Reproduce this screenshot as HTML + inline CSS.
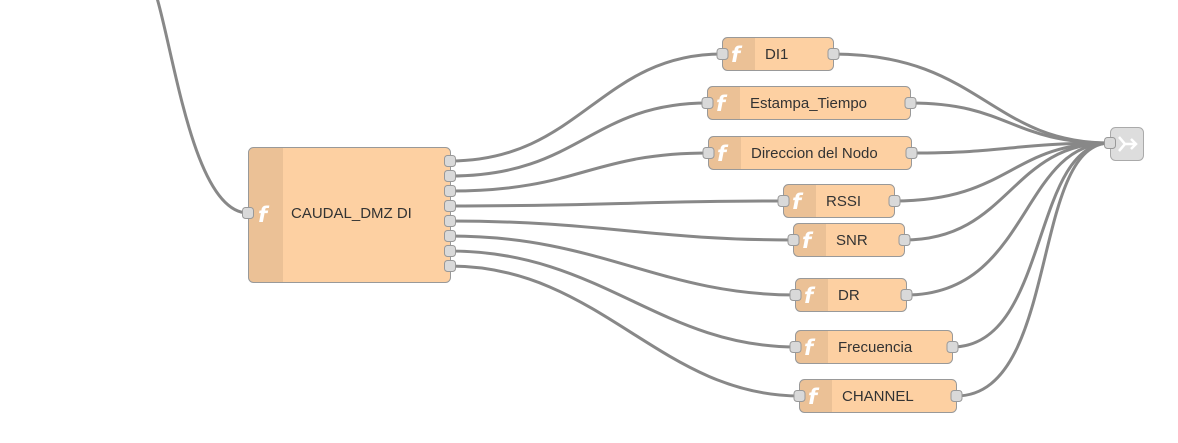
<!DOCTYPE html>
<html><head><style>
body{margin:0;background:#fff;}
svg{display:block;font-family:"Liberation Sans",Arial,sans-serif;}
.n{fill:#fdd0a2;stroke:#999;stroke-width:1;}
.ib{fill:#000;fill-opacity:0.07;}
.p{fill:#d9d9d9;stroke:#999;stroke-width:1;}
.w{fill:none;stroke:#888;stroke-width:3;}
.t{font-size:15px;fill:#333;}
.f{font-family:"DejaVu Sans",sans-serif;font-style:italic;font-weight:bold;font-size:21px;fill:#fff;}
</style></head><body>
<svg width="1178" height="443" viewBox="0 0 1178 443">
<g class="w">
<path d="M157 -2 C175 60,195 213,248 213"/>
<path d="M450 161 C580 161,600 54,722 54"/>
<path d="M450 176 C580 176,590 103,708 103"/>
<path d="M450 191 C580 191,590 153,709 153"/>
<path d="M450 206 C600 206,640 201,784 201"/>
<path d="M450 221 C600 221,650 240,794 240"/>
<path d="M450 236 C600 236,660 295,796 295"/>
<path d="M450 251 C600 251,660 347,796 347"/>
<path d="M450 266 C600 266,660 396,800 396"/>
<path d="M833 54 C980 54,990 143,1110 143"/>
<path d="M910 103 C1010 103,1010 143,1110 143"/>
<path d="M911 153 C1010 153,1010 143,1110 143"/>
<path d="M894 201 C1010 201,1010 143,1110 143"/>
<path d="M904 240 C1010 240,1010 143,1110 143"/>
<path d="M906 295 C1030 295,1020 143,1110 143"/>
<path d="M952 347 C1050 347,1030 143,1110 143"/>
<path d="M956 396 C1060 396,1030 143,1110 143"/>
</g>
<rect class="n" x="248.5" y="147.5" width="202" height="135" rx="5"/>
<path class="ib" d="M253 148 H283 V282 H253 A5 5 0 0 1 249 277 V153 A5 5 0 0 1 253 148Z"/>
<text class="f" x="258" y="222">f</text>
<text class="t" x="291" y="218">CAUDAL_DMZ DI</text>
<rect class="p" x="242.5" y="207.5" width="11" height="11" rx="3"/>
<g>
<rect class="p" x="444.5" y="155.5" width="11" height="11" rx="3"/>
<rect class="p" x="444.5" y="170.5" width="11" height="11" rx="3"/>
<rect class="p" x="444.5" y="185.5" width="11" height="11" rx="3"/>
<rect class="p" x="444.5" y="200.5" width="11" height="11" rx="3"/>
<rect class="p" x="444.5" y="215.5" width="11" height="11" rx="3"/>
<rect class="p" x="444.5" y="230.5" width="11" height="11" rx="3"/>
<rect class="p" x="444.5" y="245.5" width="11" height="11" rx="3"/>
<rect class="p" x="444.5" y="260.5" width="11" height="11" rx="3"/>
</g>
<g transform="translate(722,37)"><rect class="n" x="0.5" y="0.5" width="111" height="33" rx="5"/><path class="ib" d="M5 1 H33 V33 H5 A4 4 0 0 1 1 29 V5 A4 4 0 0 1 5 1Z"/><text class="f" x="9" y="25">f</text><text class="t" x="43" y="22">DI1</text><rect class="p" x="-5" y="11.5" width="11" height="11" rx="3"/><rect class="p" x="106" y="11.5" width="11" height="11" rx="3"/></g>
<g transform="translate(707,86)"><rect class="n" x="0.5" y="0.5" width="203" height="33" rx="5"/><path class="ib" d="M5 1 H33 V33 H5 A4 4 0 0 1 1 29 V5 A4 4 0 0 1 5 1Z"/><text class="f" x="9" y="25">f</text><text class="t" x="43" y="22">Estampa_Tiempo</text><rect class="p" x="-5" y="11.5" width="11" height="11" rx="3"/><rect class="p" x="198" y="11.5" width="11" height="11" rx="3"/></g>
<g transform="translate(708,136)"><rect class="n" x="0.5" y="0.5" width="203" height="33" rx="5"/><path class="ib" d="M5 1 H33 V33 H5 A4 4 0 0 1 1 29 V5 A4 4 0 0 1 5 1Z"/><text class="f" x="9" y="25">f</text><text class="t" x="43" y="22">Direccion del Nodo</text><rect class="p" x="-5" y="11.5" width="11" height="11" rx="3"/><rect class="p" x="198" y="11.5" width="11" height="11" rx="3"/></g>
<g transform="translate(783,184)"><rect class="n" x="0.5" y="0.5" width="111" height="33" rx="5"/><path class="ib" d="M5 1 H33 V33 H5 A4 4 0 0 1 1 29 V5 A4 4 0 0 1 5 1Z"/><text class="f" x="9" y="25">f</text><text class="t" x="43" y="22">RSSI</text><rect class="p" x="-5" y="11.5" width="11" height="11" rx="3"/><rect class="p" x="106" y="11.5" width="11" height="11" rx="3"/></g>
<g transform="translate(793,223)"><rect class="n" x="0.5" y="0.5" width="111" height="33" rx="5"/><path class="ib" d="M5 1 H33 V33 H5 A4 4 0 0 1 1 29 V5 A4 4 0 0 1 5 1Z"/><text class="f" x="9" y="25">f</text><text class="t" x="43" y="22">SNR</text><rect class="p" x="-5" y="11.5" width="11" height="11" rx="3"/><rect class="p" x="106" y="11.5" width="11" height="11" rx="3"/></g>
<g transform="translate(795,278)"><rect class="n" x="0.5" y="0.5" width="111" height="33" rx="5"/><path class="ib" d="M5 1 H33 V33 H5 A4 4 0 0 1 1 29 V5 A4 4 0 0 1 5 1Z"/><text class="f" x="9" y="25">f</text><text class="t" x="43" y="22">DR</text><rect class="p" x="-5" y="11.5" width="11" height="11" rx="3"/><rect class="p" x="106" y="11.5" width="11" height="11" rx="3"/></g>
<g transform="translate(795,330)"><rect class="n" x="0.5" y="0.5" width="157" height="33" rx="5"/><path class="ib" d="M5 1 H33 V33 H5 A4 4 0 0 1 1 29 V5 A4 4 0 0 1 5 1Z"/><text class="f" x="9" y="25">f</text><text class="t" x="43" y="22">Frecuencia</text><rect class="p" x="-5" y="11.5" width="11" height="11" rx="3"/><rect class="p" x="152" y="11.5" width="11" height="11" rx="3"/></g>
<g transform="translate(799,379)"><rect class="n" x="0.5" y="0.5" width="157" height="33" rx="5"/><path class="ib" d="M5 1 H33 V33 H5 A4 4 0 0 1 1 29 V5 A4 4 0 0 1 5 1Z"/><text class="f" x="9" y="25">f</text><text class="t" x="43" y="22">CHANNEL</text><rect class="p" x="-5" y="11.5" width="11" height="11" rx="3"/><rect class="p" x="152" y="11.5" width="11" height="11" rx="3"/></g>
<rect x="1110.5" y="127.5" width="33" height="33" rx="5" fill="#ddd" stroke="#aaa"/>
<path d="M1119 137 L1125 144 L1119 151 M1124 144 H1136 M1131 139 L1136 144 L1131 149" fill="none" stroke="#fff" stroke-width="2.5"/>
<rect class="p" x="1104.5" y="137.5" width="11" height="11" rx="3"/>
</svg>
</body></html>
